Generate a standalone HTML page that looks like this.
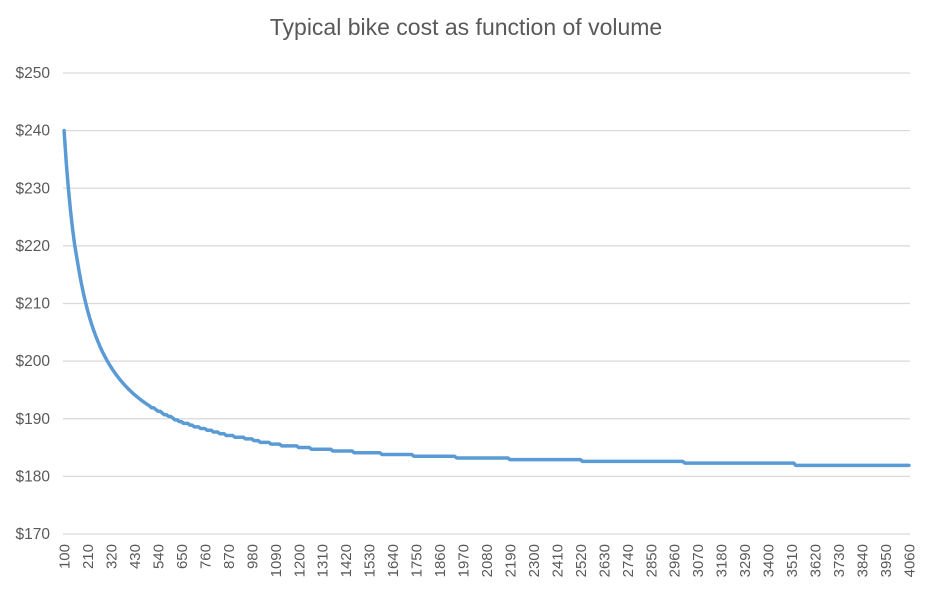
<!DOCTYPE html>
<html><head><meta charset="utf-8"><style>
body{margin:0;background:#fff;}
svg{display:block;font-family:"Liberation Sans",Arial,sans-serif;}
</style></head><body>
<svg id="chart" width="932" height="594" viewBox="0 0 932 594">
<text x="466" y="35" text-anchor="middle" font-size="23" fill="#595959">Typical bike cost as function of volume</text>
<g id="grid"></g>
<g id="ylabels"></g>
<g id="xlabels"></g>
<path id="line" fill="none" stroke="#5b9bd5" stroke-width="3.5" stroke-linejoin="round" stroke-linecap="round"/>
</svg>
<script>
const yTicks = [170,180,190,200,210,220,230,240,250];
const catStart = 100, catStep = 10, catEnd = 4060;
const earlyValues = [240.0,234.6,230.05,226.2,222.9,220.1,217.9,215.7,213.7,211.9,210.3,208.8,207.5,206.3,205.2,204.2,203.3,202.4,201.6,200.9,200.2,199.56,198.96,198.39,197.86,197.36,196.88,196.44,196.01,195.61,195.23,194.86,194.51,194.18,193.87,193.57,193.28,193.0,192.74,192.48,192.24];
const levels = [191.9,191.6,191.3,191.0,190.7,190.4,190.1,189.8,189.5,189.2,188.9,188.6,188.3,188.0,187.7,187.4,187.1,186.8,186.5,186.2,185.9,185.6,185.3,185.0,184.7,184.4,184.1,183.8,183.5,183.2,182.9,182.6,182.3,181.9];
const runs = [2,1,2,1,2,2,1,2,2,3,2,3,3,3,3,3,4,5,4,3,5,5,8,6,10,10,13,15,20,25,34,48,52,54];
const labelEvery = 11;

const categories = [];
for (let v = catStart; v <= catEnd; v += catStep) categories.push(v);
const values = earlyValues.slice();
levels.forEach((L, i) => { for (let k = 0; k < runs[i]; k++) values.push(L); });

const NS = "http://www.w3.org/2000/svg";
const X0 = 63, X1 = 910, Y0 = 534, Y1 = 73, YMIN = 170, YMAX = 250;
const n = categories.length;
const bw = (X1 - X0) / n;
const xs = i => X0 + (i + 0.5) * bw;
const ys = v => Y0 - (v - YMIN) / (YMAX - YMIN) * (Y0 - Y1);

const grid = document.getElementById('grid');
const yl = document.getElementById('ylabels');
yTicks.forEach(t => {
  const l = document.createElementNS(NS, 'line');
  
  
  l.setAttribute('x1', X0); l.setAttribute('x2', X1);
  l.setAttribute('y1', ys(t)); l.setAttribute('y2', ys(t));
  l.setAttribute('stroke', '#d9d9d9'); l.setAttribute('stroke-width', '1.3');
  grid.appendChild(l);
  const tx = document.createElementNS(NS, 'text');
  
  
  tx.setAttribute('x', 50); tx.setAttribute('y', ys(t) + 5);
  tx.setAttribute('text-anchor', 'end'); tx.setAttribute('font-size', '15.5');
  tx.setAttribute('fill', '#595959');
  tx.textContent = '$' + t;
  yl.appendChild(tx);
});

const xl = document.getElementById('xlabels');
for (let i = 0; i < n; i += labelEvery) {
  const tx = document.createElementNS(NS, 'text');
  
  
  const x = xs(i) + 5.5, y = 544;
  tx.setAttribute('transform', `translate(${x},${y}) rotate(-90)`);
  tx.setAttribute('text-anchor', 'end'); tx.setAttribute('font-size', '15');
  tx.setAttribute('fill', '#595959');
  tx.textContent = categories[i];
  xl.appendChild(tx);
}

let d = '';
values.forEach((v, i) => { d += (i ? 'L' : 'M') + xs(i).toFixed(2) + ' ' + ys(v).toFixed(2); });
document.getElementById('line').setAttribute('d', d);
</script>
</body></html>
